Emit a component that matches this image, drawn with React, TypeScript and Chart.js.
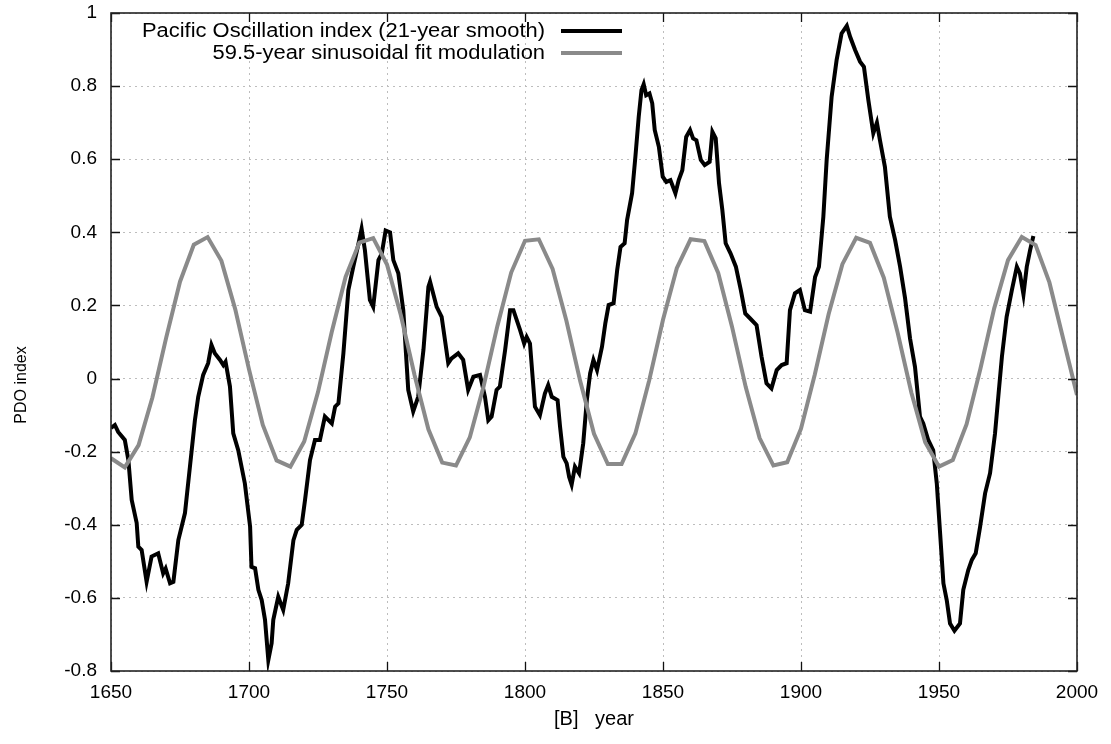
import React, { useEffect, useRef } from "react";
import { Chart, registerables } from "chart.js";

Chart.register(...registerables);

// ---- Data ----
const pdoYears = [
  1650.0, 1651.4, 1652.6, 1655.0, 1656.3, 1657.5, 1659.3, 1659.9, 1661.1, 1662.9,
  1664.7, 1667.1, 1668.9, 1669.8, 1671.4, 1672.6, 1674.4, 1676.8, 1678.6, 1680.4,
  1681.6, 1683.4, 1685.2, 1686.4, 1687.6, 1689.5, 1690.7, 1691.5, 1693.1, 1694.3,
  1696.1, 1698.5, 1700.4, 1700.9, 1702.2, 1703.4, 1704.6, 1705.8, 1707.0, 1708.2,
  1708.8, 1710.6, 1712.4, 1714.2, 1716.1, 1717.3, 1719.1, 1720.3, 1722.1, 1723.9,
  1725.7, 1727.5, 1730.0, 1731.2, 1732.4, 1734.2, 1736.0, 1737.8, 1739.7, 1740.8,
  1742.0, 1743.2, 1743.8, 1745.0, 1746.9, 1748.1, 1749.5, 1751.1, 1752.3, 1754.1,
  1755.9, 1757.7, 1759.5, 1761.3, 1763.2, 1765.0, 1765.6, 1768.0, 1769.8, 1772.2,
  1773.4, 1775.8, 1777.6, 1779.4, 1781.3, 1783.7, 1785.5, 1786.7, 1787.9, 1789.7,
  1790.9, 1792.8, 1794.6, 1795.8, 1798.2, 1799.7, 1800.6, 1801.8, 1803.6, 1805.4,
  1807.2, 1808.4, 1809.7, 1811.8, 1812.7, 1813.9, 1815.1, 1816.0, 1816.9, 1818.1,
  1819.6, 1821.1, 1822.4, 1823.6, 1824.8, 1826.1, 1827.9, 1829.1, 1830.3, 1832.1,
  1833.4, 1834.6, 1836.1, 1837.0, 1838.8, 1840.0, 1841.2, 1842.2, 1843.0, 1843.9,
  1845.1, 1846.1, 1847.0, 1848.5, 1849.9, 1851.2, 1852.7, 1854.5, 1855.7, 1857.0,
  1858.4, 1859.8, 1860.9, 1862.1, 1863.7, 1865.1, 1866.9, 1867.9, 1869.1, 1870.3,
  1871.5, 1872.7, 1874.5, 1876.4, 1878.2, 1879.8, 1881.5, 1883.9, 1885.7, 1887.5,
  1889.3, 1891.2, 1893.0, 1894.8, 1896.0, 1897.8, 1899.6, 1901.4, 1903.3, 1905.1,
  1906.5, 1908.1, 1909.3, 1911.1, 1912.9, 1914.7, 1916.6, 1917.8, 1919.6, 1921.4,
  1922.8, 1924.4, 1926.2, 1927.5, 1928.6, 1930.4, 1932.2, 1934.1, 1935.9, 1937.7,
  1939.5, 1941.3, 1943.1, 1944.3, 1946.1, 1947.9, 1949.2, 1950.4, 1951.6, 1952.8,
  1954.0, 1955.6, 1957.6, 1958.8, 1960.6, 1961.9, 1963.3, 1964.9, 1966.7, 1968.5,
  1970.3, 1971.6, 1972.8, 1974.5, 1976.4, 1978.2, 1979.3, 1980.6, 1981.8, 1983.0,
  1984.2,
];

const pdoValues = [
  -0.135, -0.127, -0.146, -0.168, -0.223, -0.332, -0.395, -0.46, -0.469, -0.556,
  -0.487, -0.478, -0.533, -0.52, -0.56, -0.556, -0.442, -0.368, -0.241, -0.114,
  -0.05, 0.01, 0.042, 0.092, 0.069, 0.051, 0.037, 0.046, -0.022, -0.15,
  -0.196, -0.287, -0.405, -0.515, -0.519, -0.578, -0.606, -0.66, -0.77, -0.724,
  -0.66, -0.597, -0.633, -0.56, -0.442, -0.414, -0.4, -0.332, -0.223, -0.168,
  -0.168, -0.104, -0.123, -0.077, -0.068, 0.069, 0.242, 0.306, 0.37, 0.41,
  0.351, 0.26, 0.215, 0.196, 0.324, 0.342, 0.405, 0.4, 0.324, 0.288,
  0.187, -0.031, -0.09, -0.05, 0.078, 0.251, 0.265, 0.196, 0.169, 0.042,
  0.055, 0.069, 0.051, -0.031, 0.005, 0.01, -0.05, -0.114, -0.104, -0.031,
  -0.022, 0.078, 0.187, 0.187, 0.133, 0.096, 0.114, 0.096, -0.077, -0.1,
  -0.041, -0.018, -0.05, -0.059, -0.132, -0.214, -0.232, -0.269, -0.29, -0.241,
  -0.259, -0.177, -0.059, 0.014, 0.051, 0.023, 0.087, 0.151, 0.201, 0.206,
  0.297, 0.36, 0.37, 0.434, 0.507, 0.607, 0.716, 0.789, 0.805, 0.775,
  0.78, 0.753, 0.68, 0.634, 0.552, 0.538, 0.543, 0.507, 0.543, 0.57,
  0.661, 0.68, 0.657, 0.652, 0.598, 0.584, 0.593, 0.675, 0.657, 0.534,
  0.461, 0.37, 0.342, 0.306, 0.242, 0.178, 0.165, 0.146, 0.06, -0.013,
  -0.027, 0.023, 0.037, 0.042, 0.187, 0.233, 0.242, 0.187, 0.183, 0.278,
  0.306, 0.443, 0.598, 0.771, 0.871, 0.944, 0.965, 0.935, 0.899, 0.867,
  0.853, 0.762, 0.671, 0.7, 0.652, 0.579, 0.443, 0.379, 0.306, 0.22,
  0.11, 0.032, -0.104, -0.123, -0.168, -0.196, -0.287, -0.423, -0.56, -0.606,
  -0.67, -0.69, -0.67, -0.578, -0.524, -0.496, -0.478, -0.405, -0.314, -0.259,
  -0.15, -0.04, 0.06, 0.169, 0.242, 0.306, 0.288, 0.23, 0.306, 0.351,
  0.39,
];

const fitYears = [
  1650, 1655, 1660, 1665, 1670, 1675, 1680, 1685, 1690, 1695,
  1700, 1705, 1710, 1715, 1720, 1725, 1730, 1735, 1740, 1745,
  1750, 1755, 1760, 1765, 1770, 1775, 1780, 1785, 1790, 1795,
  1800, 1805, 1810, 1815, 1820, 1825, 1830, 1835, 1840, 1845,
  1850, 1855, 1860, 1865, 1870, 1875, 1880, 1885, 1890, 1895,
  1900, 1905, 1910, 1915, 1920, 1925, 1930, 1935, 1940, 1945,
  1950, 1955, 1960, 1965, 1970, 1975, 1980, 1985, 1990, 1995,
  2000,
];

const fitValues = [
  -0.218, -0.243, -0.182, -0.052, 0.112, 0.265, 0.366, 0.387, 0.322, 0.19,
  0.025, -0.127, -0.224, -0.241, -0.172, -0.037, 0.128, 0.278, 0.372, 0.384,
  0.312, 0.174, 0.009, -0.139, -0.23, -0.238, -0.161, -0.021, 0.144, 0.29,
  0.377, 0.381, 0.3, 0.158, -0.007, -0.151, -0.234, -0.234, -0.15, -0.005,
  0.161, 0.302, 0.381, 0.376, 0.289, 0.142, -0.024, -0.163, -0.238, -0.229,
  -0.137, 0.011, 0.176, 0.313, 0.385, 0.371, 0.276, 0.126, -0.039, -0.174,
  -0.241, -0.223, -0.125, 0.027, 0.192, 0.324, 0.387, 0.365, 0.263, 0.109,
  -0.045,
];

const seriesLabels = [
  "Pacific Oscillation index (21-year smooth)",
  "59.5-year sinusoidal fit modulation",
];
const xTitle = "[B]   year";
const yTitle = "PDO index";

const FONT = "'Liberation Sans', Arial, Helvetica, sans-serif";

const framePlugin = {
  id: "frameAndLegend",
  afterDatasetsDraw(chart: any) {
    const { ctx, chartArea, scales } = chart;
    const { left, right, top, bottom } = chartArea;
    const xs = scales.x;
    const ys = scales.y;
    ctx.save();
    // inward ticks
    ctx.strokeStyle = "#111";
    ctx.lineWidth = 1.3;
    const tl = 9;
    ctx.beginPath();
    xs.ticks.forEach((t: any) => {
      const px = Math.round(xs.getPixelForValue(t.value)) + 0.5;
      ctx.moveTo(px, bottom);
      ctx.lineTo(px, bottom - tl);
      ctx.moveTo(px, top);
      ctx.lineTo(px, top + tl);
    });
    ys.ticks.forEach((t: any) => {
      const py = Math.round(ys.getPixelForValue(t.value)) + 0.5;
      ctx.moveTo(left, py);
      ctx.lineTo(left + tl, py);
      ctx.moveTo(right, py);
      ctx.lineTo(right - tl, py);
    });
    ctx.stroke();
    // frame
    ctx.lineWidth = 1.6;
    ctx.strokeStyle = "#222";
    ctx.strokeRect(left, top, right - left, bottom - top);

    // legend (right-aligned text, sample line after it)
    const colors = ["#000000", "#8a8a8a"];
    ctx.font = `20px ${FONT}`;
    ctx.textBaseline = "middle";
    ctx.fillStyle = "#000";
    const w0 = ctx.measureText(seriesLabels[0]).width;
    const sx = 403 / w0;
    seriesLabels.forEach((lab, i) => {
      const cy = top + 18 + i * 22;
      const w = ctx.measureText(lab).width * sx;
      ctx.save();
      ctx.translate(545 - w, cy);
      ctx.scale(sx, 1);
      ctx.textAlign = "left";
      ctx.fillText(lab, 0, 0);
      ctx.restore();
      ctx.strokeStyle = colors[i];
      ctx.lineWidth = 4;
      ctx.beginPath();
      ctx.moveTo(561, cy);
      ctx.lineTo(622, cy);
      ctx.stroke();
    });

    // y title
    ctx.save();
    ctx.font = `16px ${FONT}`;
    ctx.fillStyle = "#000";
    ctx.textAlign = "center";
    ctx.textBaseline = "middle";
    ctx.translate(22, 385);
    ctx.rotate(-Math.PI / 2);
    ctx.fillText(yTitle, 0, 0);
    ctx.restore();

    ctx.restore();
  },
};

export default function App() {
  const canvasRef = useRef<HTMLCanvasElement | null>(null);

  useEffect(() => {
    const canvas = canvasRef.current;
    if (!canvas) return;
    const pdoPoints = pdoYears.map((yr, i) => ({ x: yr, y: pdoValues[i] }));
    const fitPoints = fitYears.map((yr, i) => ({ x: yr, y: fitValues[i] }));

    const chart = new Chart(canvas, {
      type: "line",
      data: {
        datasets: [
          {
            label: seriesLabels[0],
            data: pdoPoints,
            borderColor: "#000000",
            borderWidth: 4,
            pointRadius: 0,
            tension: 0,
            fill: false,
            order: 1,
          },
          {
            label: seriesLabels[1],
            data: fitPoints,
            borderColor: "#8a8a8a",
            borderWidth: 4,
            pointRadius: 0,
            tension: 0,
            fill: false,
            order: 0,
          },
        ],
      },
      options: {
        responsive: false,
        animation: false,
        devicePixelRatio: 1,
        layout: { padding: { top: 13, right: 34, left: 0, bottom: 0 } },
        plugins: {
          legend: { display: false },
          tooltip: { enabled: false },
        },
        scales: {
          x: {
            type: "linear",
            min: 1650,
            max: 2000,
            afterFit: (s: any) => {
              s.height = 73;
              s.paddingLeft = 0;
              s.paddingRight = 0;
              s.paddingTop = 0;
              s.paddingBottom = 0;
            },
            ticks: {
              stepSize: 50,
              autoSkip: false,
              maxRotation: 0,
              padding: 10,
              color: "#000",
              font: { family: FONT, size: 19 },
              callback: (v: any) => String(v),
            },
            grid: {
              color: "#bdbdbd",
              lineWidth: 1,
              drawTicks: false,
            },
            border: { display: false, dash: [2, 4] },
            title: {
              display: true,
              text: xTitle,
              color: "#000",
              font: { family: FONT, size: 20 },
              padding: { top: 0, bottom: 13 },
            },
          },
          y: {
            type: "linear",
            min: -0.8,
            max: 1,
            afterFit: (s: any) => {
              s.width = 111;
              s.paddingTop = 0;
              s.paddingBottom = 0;
              s.paddingLeft = 0;
              s.paddingRight = 0;
            },
            ticks: {
              stepSize: 0.2,
              padding: 14,
              color: "#000",
              font: { family: FONT, size: 19 },
              callback: (v: any) => String(Number(Number(v).toFixed(1))),
            },
            grid: {
              color: "#bdbdbd",
              lineWidth: 1,
              drawTicks: false,
            },
            border: { display: false, dash: [2, 4] },
            title: { display: false },
          },
        },
      },
      plugins: [framePlugin],
    });
    return () => chart.destroy();
  }, []);

  return (
    <div style={{ position: "absolute", left: 0, top: 0, width: 1111, height: 744, background: "#fff" }}>
      <canvas ref={canvasRef} width={1111} height={744} style={{ width: 1111, height: 744, display: "block" }} />
    </div>
  );
}
